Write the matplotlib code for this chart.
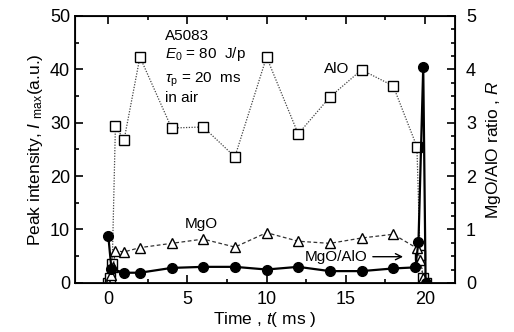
import matplotlib
matplotlib.use('Agg')
import matplotlib.pyplot as plt
from matplotlib.ticker import MultipleLocator

plt.rcParams['font.family'] = ['Liberation Sans', 'DejaVu Sans']
plt.rcParams['mathtext.fontset'] = 'custom'
plt.rcParams['mathtext.rm'] = 'Liberation Sans'
plt.rcParams['mathtext.it'] = 'Liberation Sans:italic'

# Peak intensities (a.u.) of AlO and MgO bands and their ratio vs time
t_alo = [0.0, 0.1, 0.25, 0.45, 1, 2, 4, 6, 8, 10, 12, 14, 16, 18, 19.5, 19.7, 19.9, 20.1]
alo = [0, 1.0, 3.5, 29.3, 26.8, 42.3, 29.0, 29.2, 23.6, 42.3, 27.9, 34.8, 39.9, 36.9,
       25.5, 5.2, 1.0, 0]

t_mgo = [0.0, 0.15, 0.3, 0.45, 1, 2, 4, 6, 8, 10, 12, 14, 16, 18, 19.5, 19.7, 19.9, 20.1]
mgo = [0, 1.5, 3.0, 6.0, 5.8, 6.6, 7.4, 8.2, 6.7, 9.4, 7.8, 7.4, 8.4, 9.1,
       6.5, 4.3, 1.0, 0]

t_ratio = [0.0, 0.2, 1, 2, 4, 6, 8, 10, 12, 14, 16, 18, 19.4, 19.6, 19.9, 20.05]
ratio = [0.88, 0.26, 0.19, 0.19, 0.28, 0.30, 0.30, 0.25, 0.30, 0.22, 0.22, 0.27,
         0.29, 0.77, 4.05, 0.0]

fig = plt.figure(figsize=(5.14, 3.32), dpi=100)
ax = fig.add_axes([0.146, 0.148, 0.739, 0.804])

ax.plot(t_alo, alo, color='#444444', linestyle=(0, (1, 1.2)), linewidth=0.9,
        marker='s', markersize=7, markerfacecolor='white', markeredgecolor='black',
        markeredgewidth=1.0)
ax.plot(t_mgo, mgo, color='#333333', linestyle=(0, (3, 2)), linewidth=0.9,
        marker='^', markersize=6.5, markerfacecolor='white', markeredgecolor='black',
        markeredgewidth=1.0)

ax.set_xlim(-2.1, 21.9)
ax.set_ylim(0, 50)
ax.xaxis.set_major_locator(MultipleLocator(5))
ax.xaxis.set_minor_locator(MultipleLocator(2.5))
ax.yaxis.set_major_locator(MultipleLocator(10))
ax.yaxis.set_minor_locator(MultipleLocator(5))
ax.tick_params(which='both', direction='in', top=True, labelsize=13, width=1.2)
ax.tick_params(which='major', length=6)
ax.tick_params(which='minor', length=3)
ax.tick_params(axis='x', pad=6)
for s in ax.spines.values():
    s.set_linewidth(1.3)

ax.set_xlabel(r'Time , $t$( ms )', fontsize=12.5, labelpad=1)
ax.set_ylabel(r'Peak intensity, $I$ $_{\rm max}$(a.u.)', fontsize=12.5, labelpad=4)

# ratio on the right-hand axis
ax2 = ax.twinx()
ax2.plot(t_ratio, ratio, color='black', linewidth=1.6, marker='o', markersize=7,
         markerfacecolor='black', markeredgecolor='black')
ax2.set_ylim(0, 5)
ax2.yaxis.set_major_locator(MultipleLocator(1))
ax2.yaxis.set_minor_locator(MultipleLocator(0.25))
ax2.tick_params(which='both', direction='in', labelsize=13, width=1.2)
ax2.tick_params(which='major', length=6, pad=8)
ax2.tick_params(which='minor', length=3)
ax2.set_ylabel(r'MgO/AlO ratio , $R$', fontsize=12.5, labelpad=6)

# annotations
ax.text(3.6, 46.3, 'A5083', fontsize=11, va='center')
ax.text(3.6, 42.8, r'$E_{\rm 0}$ = 80  J/p', fontsize=11, va='center')
ax.text(3.6, 38.0, r'$\tau_{\rm p}$ = 20  ms', fontsize=11, va='center')
ax.text(3.6, 34.6, 'in air', fontsize=11, va='center')
ax.text(15.2, 40.0, 'AlO', fontsize=11, va='center', ha='right')
ax.text(5.9, 11.0, 'MgO', fontsize=11, va='center', ha='center')
ax.annotate('MgO/AlO', xy=(18.8, 4.9), xytext=(12.4, 4.9), fontsize=11, va='center',
            arrowprops=dict(arrowstyle='->', color='black', lw=1.0))

fig.savefig('out.png', dpi=100)
